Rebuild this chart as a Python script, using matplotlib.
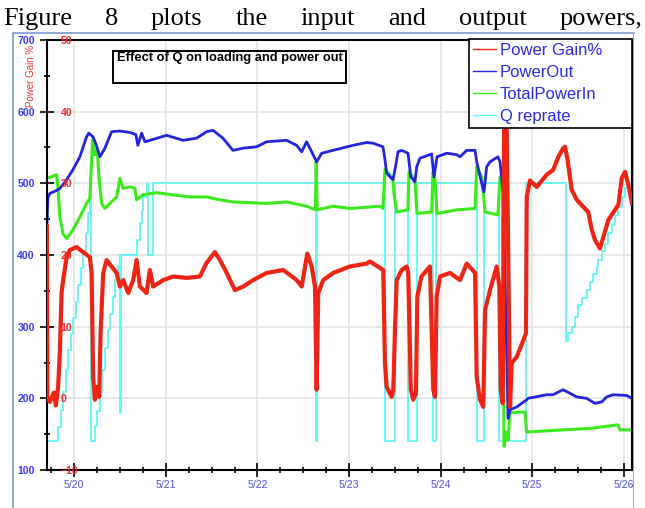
import matplotlib
matplotlib.use("Agg")
import matplotlib.pyplot as plt
from matplotlib.ticker import MultipleLocator
from matplotlib.patches import Rectangle

# time axis in days after 5/20 00:00
day_ticks = [0, 1, 2, 3, 4, 5, 6]
day_labels = ["5/20", "5/21", "5/22", "5/23", "5/24", "5/25", "5/26"]

# Q reprate (step trace, left scale)
q_t = [-0.295, -0.175, -0.148, -0.120, -0.091, -0.066, -0.036, -0.009, 0.019, 0.046,
       0.073, 0.100, 0.128, 0.153, 0.171, 0.182, 0.226, 0.253, 0.281, 0.308,
       0.335, 0.371, 0.395, 0.422, 0.450, 0.477, 0.499, 0.504, 0.512, 0.681,
       0.717, 0.736, 0.753, 0.790, 0.808, 0.856, 2.641, 2.652, 3.392, 3.501,
       3.646, 3.738, 3.913, 3.949, 4.393, 4.476, 4.640, 4.931, 5.368, 5.393,
       5.430, 5.466, 5.502, 5.539, 5.594, 5.630, 5.666, 5.703, 5.721, 5.758,
       5.793, 5.830, 5.867, 5.903, 5.939, 5.976, 6.012, 6.048, 6.088]
q_v = [140, 160, 184, 209, 240, 267, 290, 312, 335, 358,
       382, 405, 430, 458, 500, 140, 161, 182, 207, 240,
       270, 295, 318, 342, 365, 385, 400, 180, 400, 421,
       445, 463, 481, 500, 400, 500, 140, 500, 140, 500,
       140, 500, 140, 500, 140, 500, 140, 500, 280, 291,
       300, 314, 330, 340, 351, 363, 374, 384, 393, 405,
       416, 430, 442, 456, 467, 481, 493, 500, 500]

# PowerOut
out_t = [-0.298, -0.287, -0.265, -0.192, -0.156, -0.083, -0.014, 0.062, 0.135, 0.160,
         0.204, 0.237, 0.281, 0.335, 0.408, 0.499, 0.608, 0.673, 0.695, 0.736,
         0.772, 0.826, 1.009, 1.187, 1.336, 1.445, 1.514, 1.623, 1.733, 1.842,
         1.991, 2.100, 2.319, 2.428, 2.483, 2.537, 2.592, 2.646, 2.701, 2.824,
         3.043, 3.192, 3.261, 3.370, 3.392, 3.410, 3.479, 3.501, 3.534, 3.574,
         3.643, 3.674, 3.719, 3.738, 3.774, 3.901, 3.927, 3.960, 4.066, 4.175,
         4.211, 4.284, 4.375, 4.393, 4.448, 4.473, 4.502, 4.538, 4.625, 4.647,
         4.683, 4.735, 4.757, 4.830, 4.939, 4.953, 5.157, 5.226, 5.335, 5.412,
         5.485, 5.592, 5.684, 5.758, 5.812, 5.881, 6.030, 6.088]
out_v = [440, 480, 486, 490, 493, 505, 519, 537, 565, 570,
         565, 555, 537, 549, 572, 573, 571, 568, 553, 570,
         558, 560, 567, 560, 563, 572, 574, 563, 546, 549,
         551, 558, 560, 553, 544, 558, 544, 530, 542, 546,
         553, 557, 556, 551, 533, 514, 505, 519, 544, 546,
         542, 509, 502, 523, 535, 541, 509, 537, 542, 540,
         537, 546, 546, 530, 500, 488, 523, 530, 537, 530,
         486, 172, 184, 188, 198, 200, 205, 205, 212, 207,
         202, 200, 193, 195, 202, 205, 204, 200]

# TotalPowerIn
in_t = [-0.295, -0.192, -0.178, -0.156, -0.123, -0.083, -0.014, 0.062, 0.135, 0.171,
        0.201, 0.226, 0.251, 0.273, 0.299, 0.335, 0.390, 0.463, 0.499, 0.532,
        0.608, 0.663, 0.681, 0.750, 0.900, 1.078, 1.263, 1.445, 1.591, 1.733,
        2.100, 2.319, 2.537, 2.633, 2.641, 2.652, 2.824, 3.010, 3.337, 3.370,
        3.392, 3.446, 3.479, 3.490, 3.520, 3.643, 3.654, 3.719, 3.741, 3.901,
        3.916, 3.938, 3.960, 4.175, 4.375, 4.393, 4.448, 4.484, 4.625, 4.647,
        4.677, 4.691, 4.721, 4.735, 4.757, 4.920, 4.939, 5.335, 5.630, 5.935,
        5.957, 6.088]
in_v = [507, 512, 495, 453, 430, 423, 435, 453, 472, 479,
        560, 540, 547, 505, 472, 465, 472, 481, 507, 493,
        495, 493, 477, 484, 487, 484, 481, 481, 477, 474,
        472, 474, 468, 463, 530, 463, 468, 465, 468, 465,
        519, 512, 505, 486, 460, 463, 516, 505, 458, 460,
        516, 505, 458, 463, 465, 523, 509, 460, 456, 509,
        500, 133, 153, 142, 180, 181, 153, 156, 158, 163,
        156, 156]

# Power Gain %
gain_t = [-0.298, -0.293, -0.265, -0.222, -0.200, -0.175, -0.156, -0.138, -0.120, -0.083,
          -0.047, 0.026, 0.098, 0.171, 0.190, 0.207, 0.226, 0.245, 0.273, 0.288,
          0.317, 0.354, 0.408, 0.463, 0.499, 0.535, 0.590, 0.644, 0.681, 0.717,
          0.790, 0.826, 0.862, 0.972, 1.081, 1.227, 1.372, 1.445, 1.536, 1.591,
          1.664, 1.754, 1.845, 1.954, 2.100, 2.282, 2.428, 2.483, 2.544, 2.592,
          2.628, 2.646, 2.664, 2.718, 2.828, 3.010, 3.192, 3.228, 3.373, 3.392,
          3.410, 3.465, 3.483, 3.501, 3.520, 3.574, 3.629, 3.646, 3.674, 3.701,
          3.730, 3.745, 3.790, 3.883, 3.919, 3.938, 3.956, 3.993, 4.102, 4.211,
          4.284, 4.375, 4.393, 4.429, 4.465, 4.484, 4.538, 4.611, 4.640, 4.655,
          4.677, 4.696, 4.712, 4.757, 4.775, 4.830, 4.902, 4.931, 4.939, 4.975,
          5.048, 5.157, 5.229, 5.284, 5.338, 5.357, 5.382, 5.430, 5.485, 5.557,
          5.611, 5.649, 5.684, 5.739, 5.775, 5.830, 5.903, 5.939, 5.976, 6.012,
          6.048, 6.088]
gain_v = [24.0, 0.0, -0.5, 0.8, -1.0, 1.6, 6.7, 14.7, 16.5, 19.7,
          20.7, 21.1, 20.4, 19.7, 17.5, 3.0, -0.2, 1.6, 0.2, 9.1,
          17.5, 19.3, 18.4, 17.5, 15.6, 16.5, 14.7, 16.5, 19.3, 15.6,
          14.7, 17.9, 15.6, 16.5, 17.0, 16.8, 17.0, 18.9, 20.4, 19.3,
          17.5, 15.1, 15.6, 16.5, 17.5, 17.9, 16.5, 15.6, 20.2, 18.4,
          15.6, 1.2, 14.7, 16.5, 17.5, 18.4, 18.8, 19.1, 17.9, 4.9,
          1.6, 0.2, 1.2, 9.5, 16.5, 17.9, 18.4, 17.5, 1.2, -0.2,
          0.7, 14.2, 17.0, 18.4, 1.2, 0.2, 14.2, 17.0, 17.5, 16.5,
          18.8, 17.5, 3.0, -0.2, -1.2, 12.3, 15.1, 18.4, 15.6, 1.2,
          -0.7, 47.0, 47.0, -1.2, 4.9, 5.8, 8.1, 9.1, 28.1, 30.4,
          29.5, 31.2, 31.9, 33.7, 34.9, 35.1, 33.5, 29.1, 27.7, 26.7,
          26.0, 23.5, 22.1, 20.9, 22.5, 24.9, 26.3, 27.0, 30.7, 31.6,
          29.8, 27.2]

gain_ticks = [-10, 0, 10, 20, 30, 40, 50]
left_ticks = [100, 200, 300, 400, 500, 600, 700]

plt.rcParams["font.family"] = "Liberation Sans"

fig = plt.figure(figsize=(6.45, 5.08), dpi=100)
ax = fig.add_axes([46.7 / 645, 38 / 508, 585.3 / 645, 430 / 508])

c_q, c_in, c_out, c_gain = "#66f4f4", "#3cea1c", "#2424dc", "#ee2414"

l_q, = ax.plot(q_t, q_v, color=c_q, lw=1.3, drawstyle="steps-post", label="Q reprate")
l_in, = ax.plot(in_t, in_v, color=c_in, lw=2.2, label="TotalPowerIn")
l_out, = ax.plot(out_t, out_v, color=c_out, lw=2.0, label="PowerOut")

ax.set_xlim(-0.30, 6.088)
ax.set_ylim(100, 700)
ax.set_xticks(day_ticks)
ax.set_xticklabels(day_labels)
ax.xaxis.set_minor_locator(MultipleLocator(0.25))
ax.set_yticks(left_ticks)
ax.yaxis.set_minor_locator(MultipleLocator(50))
ax.grid(True, which="major", color="#e4e4e4", lw=1.2)
ax.tick_params(which="major", direction="inout", length=10, width=1.2, color="black")
ax.tick_params(which="minor", direction="inout", length=5, width=1.2, color="black")
ax.tick_params(axis="y", labelsize=7.6, labelcolor="#3a3af2", pad=3.5)
ax.tick_params(axis="x", labelsize=7.6, labelcolor="#5050e6", pad=2.5)
for lbl in ax.get_yticklabels():
    lbl.set_fontweight("bold")
for sp in ax.spines.values():
    sp.set_linewidth(1.5)
    sp.set_color("black")

ax2 = ax.twinx()
l_gain, = ax2.plot(gain_t, gain_v, color=c_gain, lw=3.0, label="Power Gain%")
ax2.set_ylim(-10, 50)
ax2.set_yticks(gain_ticks)
ax2.yaxis.tick_left()
ax2.tick_params(axis="y", length=0, pad=-10, labelsize=7.6, labelcolor="#f02a2a")
for lbl in ax2.get_yticklabels():
    lbl.set_horizontalalignment("left")
    lbl.set_fontweight("bold")
for sp in ax2.spines.values():
    sp.set_visible(False)

leg = ax2.legend(handles=[l_gain, l_out, l_in, l_q], loc="upper left",
                 bbox_to_anchor=(0.7215, 0.5, 0.2785, 0.5025), mode="expand",
                 fontsize=12, labelcolor="#2a2aee", frameon=True, fancybox=False,
                 framealpha=1, edgecolor="black", borderpad=0.25, labelspacing=0.42,
                 handlelength=1.4, handletextpad=0.2, borderaxespad=0)
leg.get_frame().set_linewidth(1.2)
for h in leg.get_lines():
    h.set_linewidth(1.0)

# title box
fig.add_artist(Rectangle((113.3 / 645, (508 - 83.3) / 508), 232.7 / 645, 32.6 / 508,
                         transform=fig.transFigure, fill=False, edgecolor="black", lw=1.4))
fig.text(117 / 645, (508 - 58.5) / 508, "Effect of Q on loading and power out",
         fontsize=9.3, fontweight="bold", va="center", ha="left")

fig.text(31 / 645, (508 - 76) / 508, "Power Gain %", rotation=90, color="#f03030",
         fontsize=7.0, ha="center", va="center")

# outer frame of the embedded figure
fig.add_artist(Rectangle((13 / 645, -0.01), 620.5 / 645, (508 - 32.7) / 508 + 0.01,
                         transform=fig.transFigure, fill=False, edgecolor="#7a9bd0", lw=1.2))
fig.add_artist(Rectangle((634.3 / 645, 0), 12 / 645, (508 - 34) / 508,
                         transform=fig.transFigure, facecolor="white", edgecolor="none",
                         zorder=10))

# justified sentence above the figure
sentence = "Figure 8 plots the input and output powers,"
words = sentence.split()
renderer = fig.canvas.get_renderer()
texts = [fig.text(0, (508 - 25) / 508, w, fontsize=19, family="Liberation Serif",
                  va="baseline") for w in words]
widths = [t.get_window_extent(renderer).width for t in texts]
gap = (642 - 3 - sum(widths)) / (len(words) - 1)
x = 3
for t, w in zip(texts, widths):
    t.set_x(x / 645)
    x += w + gap

fig.savefig("out.png", dpi=100, facecolor="white")
